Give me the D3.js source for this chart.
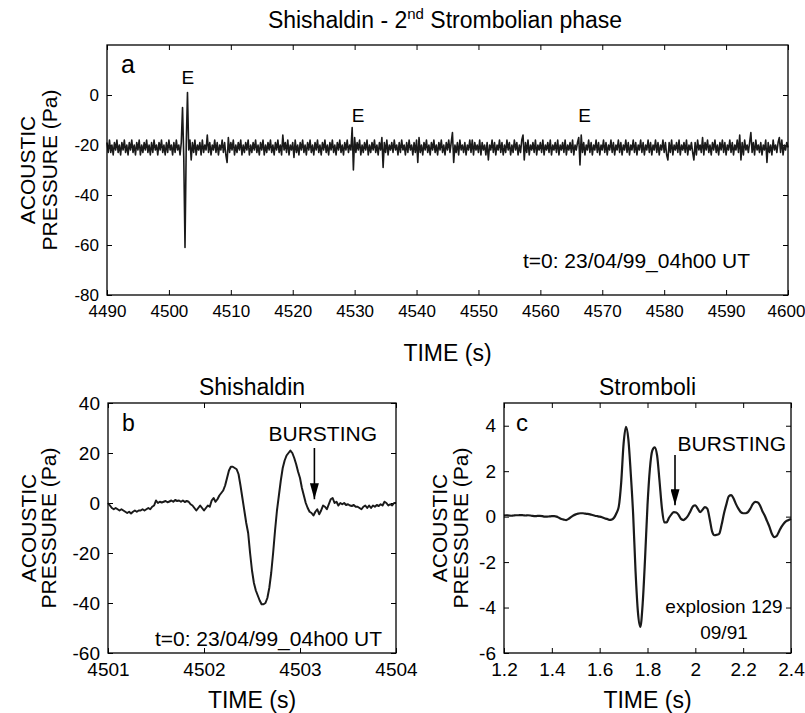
<!DOCTYPE html>
<html>
<head>
<meta charset="utf-8">
<script src="https://cdn.jsdelivr.net/npm/d3@7"></script>
<style>
  html, body { margin: 0; padding: 0; background: #fff; }
  svg { display: block; font-family: "Liberation Sans", Arial, Helvetica, sans-serif; }
  .tick line { stroke: #000; stroke-width: 1; }
  .domain { display: none; }
</style>
</head>
<body>
<svg id="chart" width="805" height="713"></svg>
<script>
// ---- Data -----------------------------------------------------------------
// Shishaldin long record (Pa), sampled every 0.2 s from t = 4490 s
const longStart = 4490, longStep = 0.2;
const shishaldinLong = [
  -19,-23,-18,-23,-20,-24,-19,-22,-18,-23,
  -20,-24,-19,-22,-18,-23,-20,-24,-19,-22,
  -18,-23,-20,-24,-19,-22,-18,-24,-20,-23,
  -19,-22,-18,-23,-20,-24,-19,-23,-18,-22,
  -20,-24,-19,-22,-18,-23,-20,-24,-19,-23,
  -18,-22,-20,-24,-19,-23,-18,-22,-20,-24,
  -19,-5,-25,-61,-20,1,-22,-18,-26,-19,
  -23,-18,-24,-20,-22,-19,-24,-18,-23,-20,
  -22,-16,-23,-19,-24,-20,-22,-18,-23,-19,
  -24,-20,-22,-18,-23,-19,-24,-27,-17,-23,
  -19,-22,-18,-24,-20,-23,-19,-22,-18,-24,
  -20,-23,-19,-22,-18,-24,-20,-23,-19,-22,
  -18,-23,-20,-24,-19,-22,-18,-24,-20,-23,
  -19,-22,-18,-23,-20,-24,-19,-22,-18,-23,
  -20,-24,-16,-22,-19,-23,-18,-24,-20,-22,
  -19,-25,-18,-23,-20,-24,-19,-22,-18,-23,
  -20,-24,-19,-22,-18,-23,-20,-24,-19,-22,
  -18,-23,-20,-24,-19,-22,-18,-23,-20,-24,
  -19,-22,-18,-23,-20,-24,-19,-22,-18,-23,
  -20,-24,-19,-22,-18,-23,-20,-22,-13,-30,
  -17,-23,-19,-22,-18,-24,-20,-23,-19,-22,
  -18,-24,-20,-23,-19,-22,-18,-23,-20,-24,
  -19,-22,-17,-29,-19,-23,-18,-24,-20,-22,
  -19,-23,-18,-22,-20,-24,-19,-23,-18,-22,
  -20,-24,-19,-23,-18,-22,-20,-24,-19,-23,
  -18,-27,-17,-23,-20,-24,-19,-22,-18,-23,
  -20,-24,-19,-22,-18,-23,-20,-24,-19,-22,
  -18,-23,-20,-24,-19,-22,-18,-23,-19,-15,
  -27,-20,-23,-19,-24,-18,-22,-20,-23,-19,
  -24,-20,-22,-18,-23,-18,-24,-19,-22,-20,
  -23,-18,-24,-19,-22,-20,-24,-19,-26,-20,
  -22,-18,-23,-19,-24,-20,-22,-18,-23,-19,
  -24,-20,-23,-18,-22,-19,-24,-20,-23,-18,
  -22,-19,-24,-20,-23,-18,-16,-26,-19,-23,
  -18,-24,-20,-22,-19,-23,-18,-24,-20,-22,
  -19,-23,-18,-24,-20,-22,-19,-23,-18,-24,
  -20,-22,-19,-23,-18,-24,-20,-22,-19,-23,
  -18,-24,-20,-22,-19,-23,-18,-24,-20,-22,
  -19,-17,-28,-16,-23,-19,-24,-20,-22,-18,
  -23,-19,-24,-20,-22,-18,-23,-19,-24,-20,
  -22,-18,-23,-19,-24,-20,-22,-18,-23,-19,
  -24,-20,-22,-18,-23,-19,-24,-20,-22,-18,
  -23,-19,-24,-20,-22,-18,-23,-19,-24,-20,
  -22,-18,-23,-19,-24,-20,-22,-18,-23,-19,
  -24,-20,-22,-18,-23,-19,-24,-20,-22,-18,
  -23,-19,-24,-26,-19,-23,-18,-24,-20,-22,
  -19,-23,-18,-24,-20,-22,-19,-23,-18,-24,
  -20,-22,-19,-23,-26,-19,-24,-18,-22,-20,
  -23,-17,-24,-19,-22,-18,-23,-20,-24,-19,
  -22,-18,-23,-20,-24,-19,-22,-18,-23,-19,
  -24,-20,-22,-18,-23,-19,-24,-20,-22,-18,
  -23,-16,-26,-19,-24,-18,-22,-20,-23,-19,
  -15,-23,-19,-24,-18,-22,-20,-23,-19,-24,
  -20,-22,-18,-27,-19,-23,-20,-24,-18,-22,
  -20,-23,-19,-17,-23,-18,-24,-20,-22,-19,
  -21
];
const eventTimes = [4502.9, 4529.9, 4566.5];
const eventLevels = [1, -13, -13];

// Shishaldin single explosion (Pa), every 0.02 s from t = 4501 s
const zoomStart = 4501, zoomStep = 0.02;
const shishaldinZoom = [
  0,-1,-2,-2.5,-2,-2.5,-3,-2.5,-3,-3.5,
  -4,-3.5,-4.2,-3.5,-3,-3.5,-3,-3,-2.5,-3,
  -2.5,-2,-2.5,-1.5,-1,1,0,0.5,0.2,0.5,
  0.8,0.3,0.6,1,0.5,1.2,0.8,1,0.5,1,
  0.4,0.8,0.5,-0.5,-1,-2,-3,-2,-1,-2,
  -3,-2,-1,-1.5,1,2,0.5,1.5,3,4,
  5,7,10,13,14.5,14.5,14,13.5,11.5,7,
  2,-3,-8,-12,-20,-27,-32,-35,-37,-39,
  -40.5,-40.5,-40,-38,-34,-28,-20,-11,-3,3,
  9,14,17,19,20,21,20,18,15.5,12.5,
  10,6,3,0,-2,-3.5,-4,-5,-3.5,-2.5,
  -4.5,-3,-1,-1.5,-2.5,-0.5,1.5,2,0,0.5,
  -1,0,-0.5,0,-0.8,-0.5,-1,-1.2,-0.8,-1.5,
  -1.5,-2,-2.5,-1.5,-1,-2,-1,-2,-1,-1.5,
  -0.8,-1.2,-0.5,-1,0.5,0,-1,-0.5,-1,0,
  0
];
const burstB = { t: 4503.15, v: 1.5 };

// Stromboli explosion 129 (Pa), every 0.01 s from t = 1.2 s
const stromStart = 1.2, stromStep = 0.01;
const stromboli = [
  0.05,0.06,0.05,0.04,0.05,0.06,0.06,0.07,0.06,0.05,
  0.06,0.05,0.03,0.02,0.03,0.03,0.02,0,0,0.01,
  0.02,0.02,0,-0.05,-0.1,-0.13,-0.15,-0.1,-0.02,0.05,
  0.1,0.13,0.15,0.15,0.13,0.12,0.1,0.07,0.04,0.02,
  0,-0.03,-0.07,-0.1,-0.14,-0.13,-0.05,0.15,0.45,1.5,
  3.2,3.95,3.4,1.9,0.1,-2.4,-4.2,-4.85,-3.8,-1.8,
  0.5,2.1,2.9,3.05,2.7,1.6,0.4,-0.25,-0.25,-0.05,
  0.1,0.2,0.18,0.08,-0.1,-0.15,-0.08,0.05,0.25,0.45,
  0.5,0.35,0.2,0.3,0.42,0.35,-0.1,-0.65,-0.82,-0.8,
  -0.75,-0.35,0.15,0.55,0.9,0.95,0.8,0.55,0.35,0.2,
  0.15,0.15,0.2,0.35,0.55,0.65,0.63,0.5,0.25,0.05,
  -0.2,-0.45,-0.75,-0.9,-0.85,-0.65,-0.45,-0.3,-0.2,-0.15,
  -0.1
];
const burstC = { t: 1.915, v: 0.5 };

// Axis ticks
const ticksAX = [4490,4500,4510,4520,4530,4540,4550,4560,4570,4580,4590,4600];
const ticksAY = [-80,-60,-40,-20,0];
const ticksBX = [4501,4502,4503,4504];
const ticksBY = [-60,-40,-20,0,20,40];
const ticksCX = [1.2,1.4,1.6,1.8,2,2.2,2.4];
const ticksCY = [-6,-4,-2,0,2,4];

// ---- Drawing --------------------------------------------------------------
const svg = d3.select("#chart");
const LABEL_FS = 21, TITLE_FS = 23, NOTE_FS = 21;
// plain hyphen for negatives, as on the printed figure
const plain = d => String(d);

function series(values, start, step) {
  return values.map((v, i) => ({ t: start + i * step, v }));
}

function panel(opt) {
  const x = d3.scaleLinear().domain(opt.xDomain).range([opt.left, opt.right]);
  const y = d3.scaleLinear().domain(opt.yDomain).range([opt.bottom, opt.top]);
  const g = svg.append("g");

  const bottomAxis = g.append("g").attr("transform", `translate(0,${opt.bottom})`)
    .call(d3.axisBottom(x).tickValues(opt.xTicks).tickSizeInner(-5).tickSizeOuter(0)
      .tickPadding(10).tickFormat(plain))
    .call(s => s.selectAll("text").attr("font-size", opt.tickFs).attr("fill", "#000"));
  if (opt.lastTickDx) {
    bottomAxis.selectAll(".tick:last-of-type text").attr("dx", opt.lastTickDx);
  }
  g.append("g").attr("transform", `translate(0,${opt.top})`)
    .call(d3.axisTop(x).tickValues(opt.xTicks).tickSizeInner(-5).tickSizeOuter(0).tickFormat(""));
  g.append("g").attr("transform", `translate(${opt.left},0)`)
    .call(d3.axisLeft(y).tickValues(opt.yTicks).tickSizeInner(-5).tickSizeOuter(0)
      .tickPadding(8).tickFormat(plain))
    .call(s => s.selectAll("text").attr("font-size", opt.tickFs).attr("fill", "#000"));
  g.append("g").attr("transform", `translate(${opt.right},0)`)
    .call(d3.axisRight(y).tickValues(opt.yTicks).tickSizeInner(-5).tickSizeOuter(0).tickFormat(""));

  g.append("path")
    .datum(opt.data)
    .attr("fill", "none")
    .attr("stroke", "#1a1a1a")
    .attr("stroke-width", opt.lineWidth)
    .attr("stroke-linejoin", "round")
    .attr("d", d3.line().x(d => x(d.t)).y(d => y(d.v)).curve(opt.curve || d3.curveLinear));

  g.append("rect")
    .attr("x", opt.left).attr("y", opt.top)
    .attr("width", opt.right - opt.left).attr("height", opt.bottom - opt.top)
    .attr("fill", "none").attr("stroke", "#000").attr("stroke-width", 1.3);

  // y-axis title in two lines
  const yc = (opt.top + opt.bottom) / 2;
  [["ACOUSTIC", opt.yLabelX1], ["PRESSURE (Pa)", opt.yLabelX2]].forEach(([txt, xx]) => {
    g.append("text")
      .attr("transform", `translate(${xx},${yc}) rotate(-90)`)
      .attr("text-anchor", "middle").attr("font-size", LABEL_FS).text(txt);
  });
  // x-axis title
  g.append("text")
    .attr("x", (opt.left + opt.right) / 2).attr("y", opt.xLabelY)
    .attr("text-anchor", "middle").attr("font-size", TITLE_FS).text("TIME (s)");

  if (opt.title) {
    g.append("text")
      .attr("x", (opt.left + opt.right) / 2).attr("y", opt.top - 8)
      .attr("text-anchor", "middle").attr("font-size", TITLE_FS).text(opt.title);
  }
  g.append("text").attr("x", opt.left + opt.letterDx).attr("y", opt.top + 28)
    .attr("font-size", opt.letterFs).text(opt.letter);
  return { g, x, y };
}

// Arrowhead marker
svg.append("defs").append("marker")
  .attr("id", "head").attr("viewBox", "0 0 16 9")
  .attr("refX", 16).attr("refY", 4.5)
  .attr("markerWidth", 16).attr("markerHeight", 9)
  .attr("markerUnits", "userSpaceOnUse")
  .attr("orient", "auto")
  .append("path").attr("d", "M0,0 L16,4.5 L0,9 Z").attr("fill", "#000");

// Main title
const title = svg.append("text").attr("x", 445).attr("y", 28)
  .attr("text-anchor", "middle").attr("font-size", TITLE_FS);
title.append("tspan").text("Shishaldin - 2");
title.append("tspan").attr("font-size", 15).attr("dy", -9).text("nd");
title.append("tspan").attr("dy", 9).text(" Strombolian phase");

// Panel a
const pa = panel({
  data: series(shishaldinLong, longStart, longStep),
  xDomain: [4490, 4600], yDomain: [-80, 20],
  left: 107, right: 788, top: 45, bottom: 295,
  xTicks: ticksAX, yTicks: ticksAY, lineWidth: 1.6, tickFs: 17, lastTickDx: -2,
  yLabelX1: 35, yLabelX2: 57, xLabelY: 361, letter: "a", letterDx: 14, letterFs: 25
});
eventTimes.forEach((t, i) => {
  pa.g.append("text").attr("x", pa.x(t) + (i === 0 ? 1 : 4)).attr("y", pa.y(eventLevels[i]) - (i === 0 ? 9 : 6))
    .attr("text-anchor", "middle").attr("font-size", 19).text("E");
});
pa.g.append("text").attr("x", 750).attr("y", 268).attr("text-anchor", "end")
  .attr("font-size", NOTE_FS).text("t=0: 23/04/99_04h00 UT");

// Panel b
const pb = panel({
  data: series(shishaldinZoom, zoomStart, zoomStep),
  xDomain: [4501, 4504], yDomain: [-60, 40],
  left: 108, right: 396, top: 403, bottom: 653,
  xTicks: ticksBX, yTicks: ticksBY, lineWidth: 2, tickFs: 19,
  yLabelX1: 36, yLabelX2: 56, xLabelY: 708, letter: "b", letterDx: 14, letterFs: 23,
  title: "Shishaldin"
});
pb.g.append("text").attr("x", 377).attr("y", 441).attr("text-anchor", "end")
  .attr("font-size", NOTE_FS).text("BURSTING");
pb.g.append("line").attr("x1", pb.x(burstB.t)).attr("x2", pb.x(burstB.t))
  .attr("y1", 448).attr("y2", pb.y(burstB.v))
  .attr("stroke", "#000").attr("stroke-width", 1.6).attr("marker-end", "url(#head)");
pb.g.append("text").attr("x", 382).attr("y", 646).attr("text-anchor", "end")
  .attr("font-size", NOTE_FS).text("t=0: 23/04/99_04h00 UT");

// Panel c
const pc = panel({
  data: series(stromboli, stromStart, stromStep),
  xDomain: [1.2, 2.4], yDomain: [-6, 5],
  left: 504, right: 791, top: 403, bottom: 653,
  xTicks: ticksCX, yTicks: ticksCY, lineWidth: 2.2, tickFs: 19, curve: d3.curveMonotoneX,
  yLabelX1: 447, yLabelX2: 468, xLabelY: 708, letter: "c", letterDx: 12, letterFs: 24,
  title: "Stromboli"
});
pc.g.append("text").attr("x", 786).attr("y", 451).attr("text-anchor", "end")
  .attr("font-size", NOTE_FS).text("BURSTING");
pc.g.append("line").attr("x1", pc.x(burstC.t)).attr("x2", pc.x(burstC.t))
  .attr("y1", 455).attr("y2", pc.y(burstC.v))
  .attr("stroke", "#000").attr("stroke-width", 1.6).attr("marker-end", "url(#head)");
pc.g.append("text").attr("x", 724).attr("y", 613).attr("text-anchor", "middle")
  .attr("font-size", 19).text("explosion 129");
pc.g.append("text").attr("x", 724).attr("y", 639).attr("text-anchor", "middle")
  .attr("font-size", 19).text("09/91");
</script>
</body>
</html>
